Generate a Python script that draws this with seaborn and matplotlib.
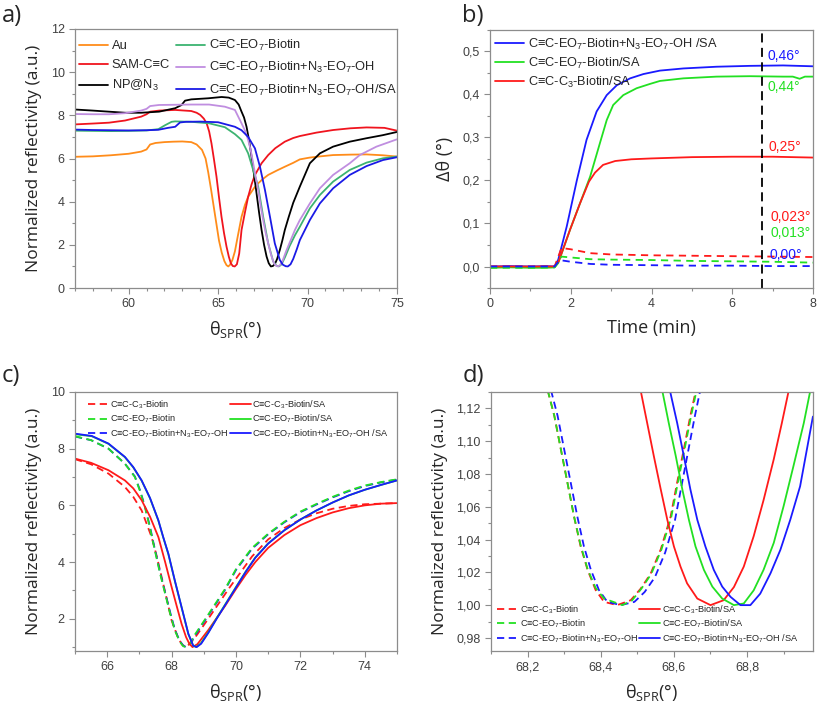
import matplotlib
matplotlib.use("Agg")
import matplotlib.pyplot as plt
import seaborn as sns
from matplotlib.ticker import MultipleLocator, FuncFormatter

sns.set_style("white")
plt.rcParams['font.family'] = ['Liberation Sans', 'DejaVu Sans']
plt.rcParams['mathtext.fontset'] = 'custom'
plt.rcParams['mathtext.rm'] = 'Liberation Sans'

# ---------------- Panel a data ----------------
a_au_x = [57.0, 58.0, 59.0, 60.0, 60.7, 61.0, 61.2, 61.5, 62.0, 62.5, 63.0, 63.5, 63.8, 64.1, 64.3, 64.45, 64.6, 64.75, 64.9, 65.05, 65.2, 65.35, 65.47, 65.57, 65.67, 65.8, 65.94, 66.1, 66.31, 66.5, 66.68, 67.0, 67.24, 67.5, 67.8, 68.3, 68.73, 69.2, 69.57, 70.1, 70.6, 71.43, 72.4, 73.3, 74.2, 75.0]
a_au_y = [6.08, 6.1, 6.15, 6.22, 6.32, 6.42, 6.65, 6.72, 6.76, 6.78, 6.79, 6.76, 6.65, 6.4, 6.0, 5.35, 4.6, 3.8, 3.0, 2.2, 1.65, 1.25, 1.06, 1.0, 1.08, 1.3, 1.7, 2.4, 3.3, 3.85, 4.23, 4.62, 4.85, 5.05, 5.24, 5.45, 5.62, 5.8, 5.96, 6.04, 6.09, 6.16, 6.18, 6.19, 6.15, 6.09]

a_sam_x = [57.0, 58.0, 58.9, 59.8, 60.7, 61.0, 61.2, 61.7, 62.6, 63.5, 63.8, 64.0, 64.2, 64.36, 64.5, 64.63, 64.77, 64.91, 65.05, 65.19, 65.33, 65.47, 65.6, 65.71, 65.82, 65.93, 66.05, 66.18, 66.31, 66.5, 66.68, 66.87, 67.06, 67.43, 67.8, 68.2, 68.73, 69.2, 69.57, 70.5, 71.43, 72.4, 73.3, 74.3, 75.0]
a_sam_y = [7.58, 7.62, 7.66, 7.76, 7.94, 8.05, 8.17, 8.22, 8.25, 8.2, 8.12, 8.02, 7.85, 7.63, 7.25, 6.7, 5.95, 5.16, 4.2, 3.3, 2.55, 1.92, 1.45, 1.15, 1.02, 1.0, 1.1, 1.6, 2.69, 3.5, 4.23, 4.8, 5.24, 5.78, 6.16, 6.48, 6.78, 6.95, 7.04, 7.2, 7.32, 7.4, 7.44, 7.42, 7.29]

a_np_x = [57.0, 58.0, 58.9, 59.8, 60.7, 61.7, 62.6, 62.96, 63.15, 63.5, 64.45, 65.2, 65.6, 65.94, 66.15, 66.31, 66.45, 66.59, 66.73, 66.87, 67.01, 67.15, 67.29, 67.43, 67.57, 67.71, 67.83, 67.95, 68.06, 68.17, 68.3, 68.45, 68.59, 68.73, 68.95, 69.2, 69.57, 70.13, 70.69, 71.43, 72.36, 73.3, 74.2, 75.0]
a_np_y = [8.27, 8.22, 8.17, 8.12, 8.12, 8.17, 8.33, 8.48, 8.68, 8.74, 8.79, 8.85, 8.82, 8.71, 8.5, 8.17, 7.9, 7.47, 6.85, 6.08, 5.25, 4.38, 3.5, 2.69, 2.0, 1.46, 1.15, 1.0, 1.02, 1.1, 1.35, 1.76, 2.2, 2.69, 3.3, 3.95, 4.7, 5.78, 6.24, 6.55, 6.78, 6.94, 7.08, 7.23]

a_bio_x = [57.0, 58.0, 59.0, 60.0, 61.0, 61.66, 62.03, 62.4, 62.6, 63.5, 64.5, 65.38, 65.94, 66.31, 66.68, 66.96, 67.24, 67.52, 67.8, 68.08, 68.25, 68.4, 68.55, 68.75, 69.0, 69.3, 69.57, 70.13, 70.69, 71.43, 72.36, 73.3, 74.22, 75.0]
a_bio_y = [7.29, 7.28, 7.27, 7.28, 7.3, 7.36, 7.54, 7.7, 7.72, 7.7, 7.63, 7.45, 7.13, 6.86, 6.24, 5.47, 4.7, 3.3, 2.07, 1.23, 1.04, 1.0, 1.1, 1.45, 1.95, 2.45, 2.84, 3.69, 4.31, 4.93, 5.47, 5.81, 6.01, 6.09]

a_mix_x = [57.0, 58.0, 58.9, 59.8, 60.7, 61.0, 61.2, 61.7, 62.6, 63.5, 64.5, 65.38, 65.94, 66.31, 66.5, 66.68, 66.82, 66.96, 67.1, 67.24, 67.38, 67.52, 67.66, 67.8, 67.94, 68.08, 68.2, 68.32, 68.45, 68.6, 68.8, 69.05, 69.3, 69.57, 70.13, 70.69, 71.43, 72.36, 72.92, 73.85, 75.0]
a_mix_y = [8.06, 8.05, 8.05, 8.1, 8.22, 8.3, 8.43, 8.48, 8.49, 8.5, 8.5, 8.4, 8.25, 7.63, 7.3, 6.86, 6.4, 5.78, 5.15, 4.54, 3.8, 3.15, 2.55, 2.07, 1.6, 1.23, 1.06, 1.0, 1.05, 1.25, 1.7, 2.2, 2.7, 3.15, 3.92, 4.62, 5.24, 5.78, 6.16, 6.55, 6.89]

a_sa_x = [57.0, 58.0, 59.0, 60.0, 61.0, 61.66, 62.2, 62.6, 62.87, 63.2, 64.0, 65.0, 65.94, 66.31, 66.68, 67.06, 67.34, 67.62, 67.9, 68.17, 68.45, 68.62, 68.78, 68.9, 69.05, 69.2, 69.4, 69.57, 70.13, 70.69, 71.43, 72.36, 73.3, 74.22, 75.0]
a_sa_y = [7.34, 7.32, 7.31, 7.3, 7.31, 7.33, 7.42, 7.47, 7.67, 7.7, 7.71, 7.68, 7.47, 7.31, 7.0, 6.47, 5.62, 4.54, 3.3, 2.07, 1.3, 1.08, 1.01, 1.0, 1.1, 1.35, 1.8, 2.22, 3.15, 3.92, 4.62, 5.24, 5.65, 5.93, 6.06]

a_labels = ['Au', 'SAM-C≡C', 'NP@N$\\mathregular{_3}$', 'C≡C-EO$\\mathregular{_7}$-Biotin',
            'C≡C-EO$\\mathregular{_7}$-Biotin+N$\\mathregular{_3}$-EO$\\mathregular{_7}$-OH',
            'C≡C-EO$\\mathregular{_7}$-Biotin+N$\\mathregular{_3}$-EO$\\mathregular{_7}$-OH/SA']

# ---------------- Panel b data ----------------
b_blue_x = [0.0, 0.5, 1.0, 1.4, 1.6, 1.69, 1.9, 2.15, 2.39, 2.64, 2.89, 3.14, 3.47, 3.8, 4.21, 4.79, 5.61, 6.43, 7.26, 8.0]
b_blue_y = [0.0, 0.001, 0.0, 0.001, 0.0, 0.016, 0.093, 0.2, 0.294, 0.36, 0.398, 0.421, 0.437, 0.447, 0.455, 0.46, 0.464, 0.466, 0.467, 0.465]
b_green_x = [0.0, 0.5, 1.0, 1.4, 1.6, 1.69, 1.98, 2.23, 2.48, 2.72, 2.89, 3.05, 3.3, 3.63, 3.96, 4.21, 4.79, 5.61, 6.43, 7.26, 7.5, 7.67, 7.8, 8.0]
b_green_y = [-0.003, -0.002, -0.003, -0.003, -0.002, 0.008, 0.085, 0.147, 0.209, 0.286, 0.34, 0.375, 0.398, 0.414, 0.424, 0.431, 0.437, 0.441, 0.442, 0.441, 0.441, 0.436, 0.441, 0.441]
b_red_x = [0.0, 0.5, 1.0, 1.4, 1.6, 1.7, 1.98, 2.23, 2.45, 2.6, 2.8, 3.1, 3.5, 4.0, 5.0, 6.0, 7.0, 8.0]
b_red_y = [0.0, 0.0, 0.0, 0.0, 0.0, 0.012, 0.085, 0.147, 0.197, 0.218, 0.236, 0.245, 0.249, 0.251, 0.254, 0.255, 0.255, 0.253]
b_red_d_x = [0.0, 1.0, 1.6, 1.77, 2.0, 2.48, 3.0, 4.0, 5.0, 6.0, 7.0, 8.0]
b_red_d_y = [0.0, 0.0, 0.0, 0.043, 0.04, 0.031, 0.028, 0.026, 0.025, 0.024, 0.023, 0.022]
b_green_d_x = [0.0, 1.0, 1.6, 1.77, 2.0, 2.48, 3.0, 4.0, 5.0, 6.0, 7.0, 8.0]
b_green_d_y = [-0.003, -0.003, -0.002, 0.023, 0.021, 0.017, 0.016, 0.015, 0.013, 0.012, 0.011, 0.009]
b_blue_d_x = [0.0, 1.0, 1.6, 1.72, 2.0, 2.48, 3.0, 4.0, 5.0, 6.0, 7.0, 8.0]
b_blue_d_y = [0.0, 0.0, 0.0, 0.015, 0.011, 0.006, 0.004, 0.003, 0.002, 0.002, 0.001, 0.001]
b_labels = ['C≡C-EO$\\mathregular{_7}$-Biotin+N$\\mathregular{_3}$-EO$\\mathregular{_7}$-OH /SA',
            'C≡C-EO$\\mathregular{_7}$-Biotin/SA', 'C≡C-C$\\mathregular{_3}$-Biotin/SA']
b_vline = 6.73
b_notes = ['0,46°', '0,44°', '0,25°', '0,023°', '0,013°', '0,00°']
b_note_x = [6.88, 6.88, 6.9, 6.95, 6.95, 6.92]
b_note_y = [0.49, 0.418, 0.278, 0.116, 0.078, 0.026]

# ---------------- Panel c data ----------------
c_red_d_x = [65.0, 65.5, 66.04, 66.55, 66.81, 67.07, 67.38, 67.54, 67.69, 67.85, 68.0, 68.21, 68.33, 68.45, 68.6, 68.8, 69.14, 69.5, 69.8, 70.12, 70.5, 71.0, 71.5, 72.0, 72.5, 73.0, 73.5, 74.0, 75.0]
c_red_d_y = [7.63, 7.45, 7.12, 6.65, 6.3, 5.82, 4.88, 4.2, 3.47, 2.7, 1.94, 1.3, 1.08, 1.0, 1.15, 1.45, 2.0, 2.6, 3.1, 3.6, 4.2, 4.8, 5.2, 5.5, 5.72, 5.88, 5.98, 6.04, 6.08]
c_green_d_x = [65.0, 65.5, 66.04, 66.55, 66.86, 67.02, 67.17, 67.33, 67.48, 67.64, 67.8, 67.95, 68.1, 68.25, 68.36, 68.45, 68.58, 68.73, 69.14, 69.66, 70.0, 70.5, 71.0, 71.5, 72.0, 72.5, 73.0, 73.5, 74.0, 74.5, 75.0]
c_green_d_y = [8.44, 8.3, 8.0, 7.47, 7.0, 6.5, 5.94, 5.2, 4.41, 3.6, 2.88, 2.2, 1.59, 1.2, 1.03, 1.0, 1.15, 1.45, 2.15, 3.05, 3.75, 4.5, 5.0, 5.42, 5.78, 6.05, 6.3, 6.52, 6.7, 6.82, 6.92]
c_blue_d_x = [65.0, 65.5, 66.04, 66.55, 66.86, 67.02, 67.17, 67.33, 67.48, 67.64, 67.8, 67.95, 68.1, 68.25, 68.37, 68.46, 68.59, 68.74, 69.14, 69.66, 70.0, 70.5, 71.0, 71.5, 72.0, 72.5, 73.0, 73.5, 74.0, 74.5, 75.0]
c_blue_d_y = [8.43, 8.3, 8.0, 7.47, 7.02, 6.53, 5.97, 5.24, 4.45, 3.65, 2.92, 2.25, 1.62, 1.22, 1.04, 1.0, 1.14, 1.43, 2.12, 3.02, 3.72, 4.47, 4.98, 5.4, 5.76, 6.03, 6.28, 6.5, 6.68, 6.81, 6.91]
c_red_x = [65.0, 65.5, 66.04, 66.55, 66.81, 67.07, 67.33, 67.59, 67.8, 68.0, 68.17, 68.31, 68.45, 68.55, 68.65, 68.8, 69.14, 69.66, 70.0, 70.3, 70.6, 71.0, 71.5, 72.0, 72.5, 73.0, 73.5, 74.0, 74.5, 75.0]
c_red_y = [7.65, 7.5, 7.24, 6.88, 6.6, 6.18, 5.6, 4.88, 4.0, 3.12, 2.4, 1.82, 1.35, 1.12, 1.0, 1.1, 1.6, 2.45, 3.05, 3.55, 4.0, 4.5, 4.95, 5.3, 5.55, 5.75, 5.9, 6.0, 6.06, 6.08]
c_green_x = [65.0, 65.52, 66.04, 66.55, 66.81, 67.07, 67.33, 67.59, 67.74, 67.9, 68.1, 68.31, 68.52, 68.67, 68.76, 68.9, 69.14, 69.4, 69.7, 70.0, 70.3, 70.6, 71.0, 71.5, 72.0, 72.5, 73.0, 73.5, 74.0, 74.5, 75.0]
c_green_y = [8.51, 8.44, 8.17, 7.7, 7.34, 6.87, 6.25, 5.46, 4.87, 4.28, 3.34, 2.4, 1.46, 1.05, 1.0, 1.12, 1.52, 2.02, 2.57, 3.12, 3.66, 4.16, 4.66, 5.12, 5.5, 5.82, 6.1, 6.35, 6.55, 6.72, 6.88]
c_blue_x = [65.0, 65.52, 66.04, 66.55, 66.81, 67.07, 67.33, 67.59, 67.74, 67.9, 68.1, 68.31, 68.52, 68.67, 68.78, 68.92, 69.14, 69.4, 69.7, 70.0, 70.3, 70.6, 71.0, 71.5, 72.0, 72.5, 73.0, 73.5, 74.0, 74.5, 75.0]
c_blue_y = [8.53, 8.45, 8.18, 7.71, 7.35, 6.88, 6.26, 5.47, 4.88, 4.29, 3.35, 2.41, 1.47, 1.05, 1.0, 1.12, 1.5, 2.0, 2.55, 3.1, 3.65, 4.15, 4.65, 5.12, 5.5, 5.82, 6.1, 6.35, 6.55, 6.72, 6.88]
cd_labels = ['C≡C-C$\\mathregular{_3}$-Biotin', 'C≡C-EO$\\mathregular{_7}$-Biotin',
             'C≡C-EO$\\mathregular{_7}$-Biotin+N$\\mathregular{_3}$-EO$\\mathregular{_7}$-OH',
             'C≡C-C$\\mathregular{_3}$-Biotin/SA', 'C≡C-EO$\\mathregular{_7}$-Biotin/SA',
             'C≡C-EO$\\mathregular{_7}$-Biotin+N$\\mathregular{_3}$-EO$\\mathregular{_7}$-OH /SA']

# ---------------- Panel d data ----------------
d_red_d_x = [68.255, 68.273, 68.291, 68.309, 68.327, 68.345, 68.364, 68.386, 68.409, 68.445, 68.482, 68.509, 68.536, 68.564, 68.591, 68.609, 68.627, 68.645, 68.659]
d_red_d_y = [1.131, 1.1155, 1.095, 1.0746, 1.054, 1.0358, 1.0215, 1.0092, 1.002, 1.0, 1.003, 1.010, 1.019, 1.034, 1.054, 1.075, 1.095, 1.1155, 1.13]
d_green_d_x = [68.255, 68.273, 68.291, 68.309, 68.327, 68.345, 68.364, 68.386, 68.409, 68.459, 68.486, 68.511, 68.538, 68.566, 68.593, 68.611, 68.629, 68.647, 68.661]
d_green_d_y = [1.131, 1.1155, 1.095, 1.0746, 1.054, 1.0365, 1.022, 1.0105, 1.004, 1.0, 1.003, 1.010, 1.019, 1.034, 1.054, 1.075, 1.095, 1.1155, 1.13]
d_blue_d_x = [68.264, 68.282, 68.3, 68.318, 68.336, 68.354, 68.373, 68.395, 68.418, 68.455, 68.492, 68.52, 68.548, 68.576, 68.603, 68.621, 68.639, 68.657, 68.671]
d_blue_d_y = [1.131, 1.1155, 1.095, 1.0746, 1.054, 1.0358, 1.0215, 1.0092, 1.002, 1.0, 1.002, 1.008, 1.017, 1.032, 1.052, 1.073, 1.094, 1.115, 1.13]
d_red_x = [68.509, 68.527, 68.545, 68.564, 68.582, 68.6, 68.618, 68.636, 68.664, 68.7, 68.736, 68.764, 68.791, 68.818, 68.845, 68.873, 68.895, 68.914]
d_red_y = [1.131, 1.111, 1.091, 1.0706, 1.052, 1.0358, 1.0235, 1.0133, 1.004, 1.0, 1.003, 1.011, 1.0235, 1.042, 1.064, 1.089, 1.111, 1.131]
d_green_x = [68.568, 68.586, 68.605, 68.623, 68.641, 68.659, 68.682, 68.705, 68.732, 68.764, 68.791, 68.818, 68.845, 68.873, 68.9, 68.927, 68.955, 68.973]
d_green_y = [1.131, 1.111, 1.091, 1.0706, 1.052, 1.0358, 1.0215, 1.0113, 1.004, 1.0, 1.001, 1.009, 1.0215, 1.038, 1.0605, 1.085, 1.111, 1.131]
d_blue_x = [68.589, 68.609, 68.627, 68.645, 68.664, 68.686, 68.709, 68.732, 68.755, 68.782, 68.809, 68.836, 68.864, 68.891, 68.918, 68.945, 68.98]
d_blue_y = [1.131, 1.111, 1.091, 1.0706, 1.052, 1.0358, 1.0215, 1.0113, 1.005, 1.0, 1.0, 1.007, 1.0194, 1.0337, 1.052, 1.0725, 1.115]

# ---------------- styling ----------------
RED = '#ff1a1a'
GREEN = '#22e022'
BLUE = '#1a1aff'
TICKC = '#404040'
SPINE = '#8c8c8c'
LW = 1.3
LABEL_FONT = ['Open Sans', 'DejaVu Sans']

fig = plt.figure(figsize=(8.17, 7.02), dpi=100)
axA = fig.add_axes([0.0918, 0.5897, 0.3941, 0.369])
axB = fig.add_axes([0.5998, 0.5897, 0.3953, 0.368])
axC = fig.add_axes([0.0918, 0.0726, 0.3941, 0.369])
axD = fig.add_axes([0.601, 0.0726, 0.394, 0.369])


def style(ax):
    for s in ax.spines.values():
        s.set_color(SPINE)
        s.set_linewidth(0.9)
    ax.tick_params(which='both', direction='out', colors=SPINE, labelcolor=TICKC, labelsize=9,
                   bottom=True, left=True, top=False, right=False)
    ax.tick_params(which='major', length=4, width=0.8)
    ax.tick_params(which='minor', length=2.5, width=0.8)
    ax.grid(False)


def line(ax, x, y, color, label=None, ls='-', lw=LW):
    sns.lineplot(x=x, y=y, ax=ax, color=color, label=label, linestyle=ls, linewidth=lw,
                 estimator=None, sort=False)


# ---- a ----
line(axA, a_au_x, a_au_y, '#ff8c1a', a_labels[0])
line(axA, a_sam_x, a_sam_y, '#f0141e', a_labels[1])
line(axA, a_np_x, a_np_y, '#000000', a_labels[2])
line(axA, a_bio_x, a_bio_y, '#3cb371', a_labels[3])
line(axA, a_mix_x, a_mix_y, '#c08ee0', a_labels[4])
line(axA, a_sa_x, a_sa_y, '#1a1ae6', a_labels[5])
axA.set_xlim(57, 75)
axA.set_ylim(0, 12)
axA.xaxis.set_major_locator(MultipleLocator(5))
axA.xaxis.set_minor_locator(MultipleLocator(1))
axA.yaxis.set_major_locator(MultipleLocator(2))
axA.yaxis.set_minor_locator(MultipleLocator(1))
style(axA)
axA.legend(ncol=2, loc='upper left', bbox_to_anchor=(-0.015, 1.0), frameon=False, fontsize=9.3,
           handlelength=2.2, handletextpad=0.3, columnspacing=0.5, labelspacing=0.55,
           borderaxespad=0.3)
axA.set_xlabel('θ$\\mathregular{_{SPR}}$(°)', fontsize=13, family=LABEL_FONT, labelpad=6)
axA.set_ylabel('Normalized reflectivity (a.u.)', fontsize=12.5, family=LABEL_FONT, labelpad=6)

# ---- b ----
line(axB, b_blue_x, b_blue_y, BLUE, b_labels[0])
line(axB, b_green_x, b_green_y, GREEN, b_labels[1])
line(axB, b_red_x, b_red_y, RED, b_labels[2])
line(axB, b_red_d_x, b_red_d_y, RED, None, ls=(0, (4, 3)))
line(axB, b_green_d_x, b_green_d_y, GREEN, None, ls=(0, (4, 3)))
line(axB, b_blue_d_x, b_blue_d_y, BLUE, None, ls=(0, (4, 3)))
axB.axvline(b_vline, color='black', linestyle=(0, (5, 3)), linewidth=1.3)
note_colors = [BLUE, GREEN, RED, RED, GREEN, BLUE]
for t, xx, yy, cc in zip(b_notes, b_note_x, b_note_y, note_colors):
    axB.text(xx, yy, t, color=cc, fontsize=10, ha='left', va='center')
axB.set_xlim(0, 8)
axB.set_ylim(-0.05, 0.55)
axB.xaxis.set_major_locator(MultipleLocator(2))
axB.xaxis.set_minor_locator(MultipleLocator(1))
axB.yaxis.set_major_locator(MultipleLocator(0.1))
axB.yaxis.set_minor_locator(MultipleLocator(0.05))
axB.yaxis.set_major_formatter(FuncFormatter(lambda v, p: f"{v:.1f}".replace('.', ',')))
style(axB)
axB.legend(loc='upper left', bbox_to_anchor=(-0.005, 1.0), frameon=False, fontsize=9.2,
           handlelength=2.2, handletextpad=0.35, labelspacing=0.3, borderaxespad=0.15)
axB.set_xlabel('Time (min)', fontsize=13, family=LABEL_FONT, labelpad=6)
axB.set_ylabel('Δθ (°)', fontsize=13, family=LABEL_FONT, labelpad=6)

# ---- c ----
DASH = (0, (4, 2.5))
line(axC, c_red_d_x, c_red_d_y, RED, cd_labels[0], ls=DASH)
line(axC, c_blue_d_x, c_blue_d_y, BLUE, cd_labels[2], ls=DASH)
line(axC, c_green_d_x, c_green_d_y, GREEN, cd_labels[1], ls=DASH)
line(axC, c_red_x, c_red_y, RED, cd_labels[3])
line(axC, c_green_x, c_green_y, GREEN, cd_labels[4])
line(axC, c_blue_x, c_blue_y, BLUE, cd_labels[5])
axC.set_xlim(65, 75)
axC.set_ylim(0.86, 10)
axC.xaxis.set_major_locator(MultipleLocator(2))
axC.xaxis.set_minor_locator(MultipleLocator(1))
axC.yaxis.set_major_locator(MultipleLocator(2))
axC.yaxis.set_minor_locator(MultipleLocator(1))
axC.set_yticks([2, 4, 6, 8, 10])
style(axC)


def cd_legend(ax, loc, anchor):
    h, l = ax.get_legend_handles_labels()
    order = [l.index(s) for s in cd_labels]
    ax.legend([h[i] for i in order], [l[i] for i in order], ncol=2, loc=loc, bbox_to_anchor=anchor,
              frameon=False, fontsize=6.6, handlelength=2.3, handletextpad=0.15,
              columnspacing=0.1, labelspacing=0.22, borderaxespad=0.3)


cd_legend(axC, 'upper left', (0.02, 1.0))
axC.set_xlabel('θ$\\mathregular{_{SPR}}$(°)', fontsize=13, family=LABEL_FONT, labelpad=6)
axC.set_ylabel('Normalized reflectivity (a.u.)', fontsize=12.5, family=LABEL_FONT, labelpad=6)

# ---- d ----
line(axD, d_red_d_x, d_red_d_y, RED, cd_labels[0], ls=DASH)
line(axD, d_blue_d_x, d_blue_d_y, BLUE, cd_labels[2], ls=DASH)
line(axD, d_green_d_x, d_green_d_y, GREEN, cd_labels[1], ls=DASH)
line(axD, d_red_x, d_red_y, RED, cd_labels[3])
line(axD, d_green_x, d_green_y, GREEN, cd_labels[4])
line(axD, d_blue_x, d_blue_y, BLUE, cd_labels[5])
axD.set_xlim(68.1, 68.98)
axD.set_ylim(0.972, 1.13)
axD.xaxis.set_major_locator(MultipleLocator(0.2))
axD.xaxis.set_minor_locator(MultipleLocator(0.1))
axD.yaxis.set_major_locator(MultipleLocator(0.02))
axD.yaxis.set_minor_locator(MultipleLocator(0.01))
axD.xaxis.set_major_formatter(FuncFormatter(lambda v, p: f"{v:.1f}".replace('.', ',')))
axD.yaxis.set_major_formatter(FuncFormatter(lambda v, p: f"{v:.2f}".replace('.', ',')))
style(axD)
cd_legend(axD, 'lower left', (0.0, 0.0))
axD.set_xlabel('θ$\\mathregular{_{SPR}}$(°)', fontsize=13, family=LABEL_FONT, labelpad=6)
axD.set_ylabel('Normalized reflectivity (a.u.)', fontsize=12.5, family=LABEL_FONT, labelpad=6)

# panel letters
fig.text(0.002, 0.995, 'a)', fontsize=17, va='top', ha='left', family=LABEL_FONT)
fig.text(0.566, 0.995, 'b)', fontsize=17, va='top', ha='left', family=LABEL_FONT)
fig.text(0.002, 0.482, 'c)', fontsize=17, va='top', ha='left', family=LABEL_FONT)
fig.text(0.566, 0.482, 'd)', fontsize=17, va='top', ha='left', family=LABEL_FONT)

fig.savefig('out.png', dpi=100)
